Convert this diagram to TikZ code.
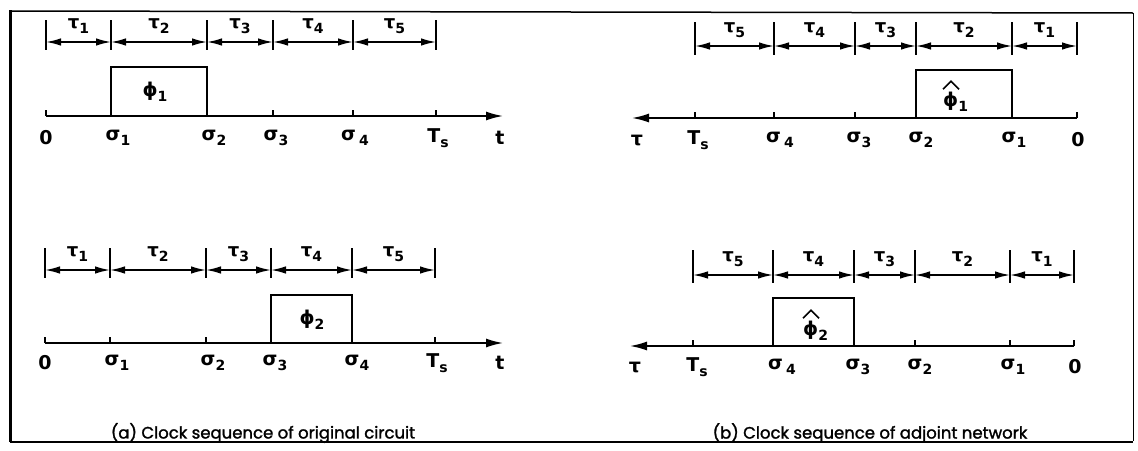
\documentclass[tikz,border=0pt]{standalone}
\usepackage{fontspec}
\setmainfont{DejaVu Sans}
\newfontfamily\capfont{Poppins}[FakeBold=1.6]
\usetikzlibrary{arrows.meta,calc}
\newcommand\gsub[2]{#1\raisebox{-0.45ex}{\fontsize{14}{14}\selectfont #2}}
\tikzset{
  lab/.style={font=\bfseries\fontsize{19}{19}\selectfont, inner sep=0pt},
  tlab/.style={font=\bfseries\fontsize{18}{18}\selectfont, inner sep=0pt},
  caplab/.style={font=\capfont\fontsize{16.5}{16.5}\selectfont, inner sep=0pt},
  dimline/.style={{Latex[length=15pt,width=7.5pt]}-{Latex[length=15pt,width=7.5pt]}, line width=1.5pt},
  limline/.style={line width=1.3pt},
  axisline/.style={line width=1.6pt},
  axarrow/.style={axisline, -{Latex[length=17pt,width=9pt]}},
  pulse/.style={line width=1.6pt},
  hatline/.style={line width=1.6pt, line join=miter},
}
\begin{document}
\begin{tikzpicture}[x=1pt,y=-1pt]
\useasboundingbox (0,0) rectangle (1138,450);
% frame
\draw[line width=1.5pt] (10,11) -- (1133,13);
\draw[line width=0.8pt] (1133,13) -- (1133,441);
\draw[line width=3pt] (10,10) -- (10,442);
\draw[line width=2.5pt] (10,442) -- (1133,442);

% ===== (a) top =====
\foreach \n/\x in {0/46,1/111,2/207,3/273,4/353,5/436}{
  \coordinate (a1d\n) at (\x,42);
  \coordinate (a1x\n) at (\x,116);
  \draw[limline] (\x,20) -- (\x,50);
  \draw[limline] (\x,116) -- (\x,110);
}
\coordinate (a1end) at (503,116);
\draw[axisline] (a1x0) -- (a1x5);
\draw[axarrow] (a1x5) -- (a1end);
\foreach \a/\b/\k in {0/1/1,1/2/2,2/3/3,3/4/4,4/5/5}{
  \draw[dimline] (a1d\a) -- (a1d\b);
  \node[tlab] (a1tau\k) at ($ (a1d\a)!0.5!(a1d\b) + (0,-16) $) {\gsub{τ}{\k}};
}
\draw[pulse] (a1x1) -- (111,67) -- (207,67) -- (a1x2);
\node[lab] (a1phi) at (155,92) {\gsub{ϕ}{1}};
\node[lab] (a1l0) at (46,138) {0};
\node[lab] (a1l1) at (118,138) {\gsub{σ}{1}};
\node[lab] (a1l2) at (214,138) {\gsub{σ}{2}};
\node[lab] (a1l3) at (276,138) {\gsub{σ}{3}};
\node[lab] (a1l4) at (355,138) {\gsub{σ\,}{4}};
\node[lab] (a1l5) at (438,138) {\gsub{T}{s}};
\node[lab] (a1lt) at (500,138) {t};

% ===== (a) bottom =====
\foreach \n/\x in {0/45,1/110,2/206,3/271,4/352,5/435}{
  \coordinate (a2d\n) at (\x,270);
  \coordinate (a2x\n) at (\x,343);
  \draw[limline] (\x,248) -- (\x,278);
  \draw[limline] (\x,343) -- (\x,337);
}
\coordinate (a2end) at (503,343);
\draw[axisline] (a2x0) -- (a2x5);
\draw[axarrow] (a2x5) -- (a2end);
\foreach \a/\b/\k in {0/1/1,1/2/2,2/3/3,3/4/4,4/5/5}{
  \draw[dimline] (a2d\a) -- (a2d\b);
  \node[tlab] (a2tau\k) at ($ (a2d\a)!0.5!(a2d\b) + (0,-16) $) {\gsub{τ}{\k}};
}
\draw[pulse] (a2x3) -- (271,295) -- (352,295) -- (a2x4);
\node[lab] (a2phi) at (312,320) {\gsub{ϕ}{2}};
\node[lab] (a2l0) at (45,363) {0};
\node[lab] (a2l1) at (117,363) {\gsub{σ}{1}};
\node[lab] (a2l2) at (213,363) {\gsub{σ}{2}};
\node[lab] (a2l3) at (275,363) {\gsub{σ}{3}};
\node[lab] (a2l4) at (357,363) {\gsub{σ}{4}};
\node[lab] (a2l5) at (437,363) {\gsub{T}{s}};
\node[lab] (a2lt) at (500,363) {t};

% ===== (b) top =====
\foreach \n/\x in {5/695,4/774,3/855,2/916,1/1012,0/1077}{
  \coordinate (b1d\n) at (\x,46);
  \coordinate (b1x\n) at (\x,118);
  \draw[limline] (\x,22) -- (\x,55);
  \draw[limline] (\x,118) -- (\x,112);
}
\coordinate (b1end) at (632,118);
\draw[axisline] (b1x0) -- (b1x5);
\draw[axarrow] (b1x5) -- (b1end);
\foreach \a/\b/\k in {0/1/1,1/2/2,2/3/3,3/4/4,4/5/5}{
  \draw[dimline] (b1d\a) -- (b1d\b);
  \node[tlab] (b1tau\k) at ($ (b1d\a)!0.5!(b1d\b) + (0,-16) $) {\gsub{τ}{\k}};
}
\draw[pulse] (b1x2) -- (916,70) -- (1012,70) -- (b1x1);
\node[lab, anchor=west] (b1phi) at (943,102) {\gsub{ϕ}{1}};
\draw[hatline] ([shift={(0,-3)}]b1phi.north west) -- ([shift={(8,-11)}]b1phi.north west) -- ([shift={(16,-3)}]b1phi.north west);
\node[lab] (b1lt) at (637,140) {τ};
\node[lab] (b1l5) at (698,140) {\gsub{T}{s}};
\node[lab] (b1l4) at (780,140) {\gsub{σ\,}{4}};
\node[lab] (b1l3) at (859,140) {\gsub{σ}{3}};
\node[lab] (b1l2) at (921,140) {\gsub{σ}{2}};
\node[lab] (b1l1) at (1014,140) {\gsub{σ}{1}};
\node[lab] (b1l0) at (1078,140) {0};

% ===== (b) bottom =====
\foreach \n/\x in {5/693,4/773,3/854,2/915,1/1010,0/1074}{
  \coordinate (b2d\n) at (\x,275);
  \coordinate (b2x\n) at (\x,346);
  \draw[limline] (\x,250) -- (\x,283);
  \draw[limline] (\x,346) -- (\x,340);
}
\coordinate (b2end) at (630,346);
\draw[axisline] (b2x0) -- (b2x5);
\draw[axarrow] (b2x5) -- (b2end);
\foreach \a/\b/\k in {0/1/1,1/2/2,2/3/3,3/4/4,4/5/5}{
  \draw[dimline] (b2d\a) -- (b2d\b);
  \node[tlab] (b2tau\k) at ($ (b2d\a)!0.5!(b2d\b) + (0,-16) $) {\gsub{τ}{\k}};
}
\draw[pulse] (b2x4) -- (773,298) -- (854,298) -- (b2x3);
\node[lab, anchor=west] (b2phi) at (803,331) {\gsub{ϕ}{2}};
\draw[hatline] ([shift={(0,-3)}]b2phi.north west) -- ([shift={(8,-11)}]b2phi.north west) -- ([shift={(16,-3)}]b2phi.north west);
\node[lab] (b2lt) at (635,367) {τ};
\node[lab] (b2l5) at (697,367) {\gsub{T}{s}};
\node[lab] (b2l4) at (782,367) {\gsub{σ\,}{4}};
\node[lab] (b2l3) at (858,367) {\gsub{σ}{3}};
\node[lab] (b2l2) at (920,367) {\gsub{σ}{2}};
\node[lab] (b2l1) at (1013,367) {\gsub{σ}{1}};
\node[lab] (b2l0) at (1075,367) {0};

% captions
\node[caplab] (capa) at (263,433) {(a) Clock sequence of original circuit};
\node[caplab] (capb) at (870,433) {(b) Clock sequence of adjoint network};
\end{tikzpicture}
\end{document}
